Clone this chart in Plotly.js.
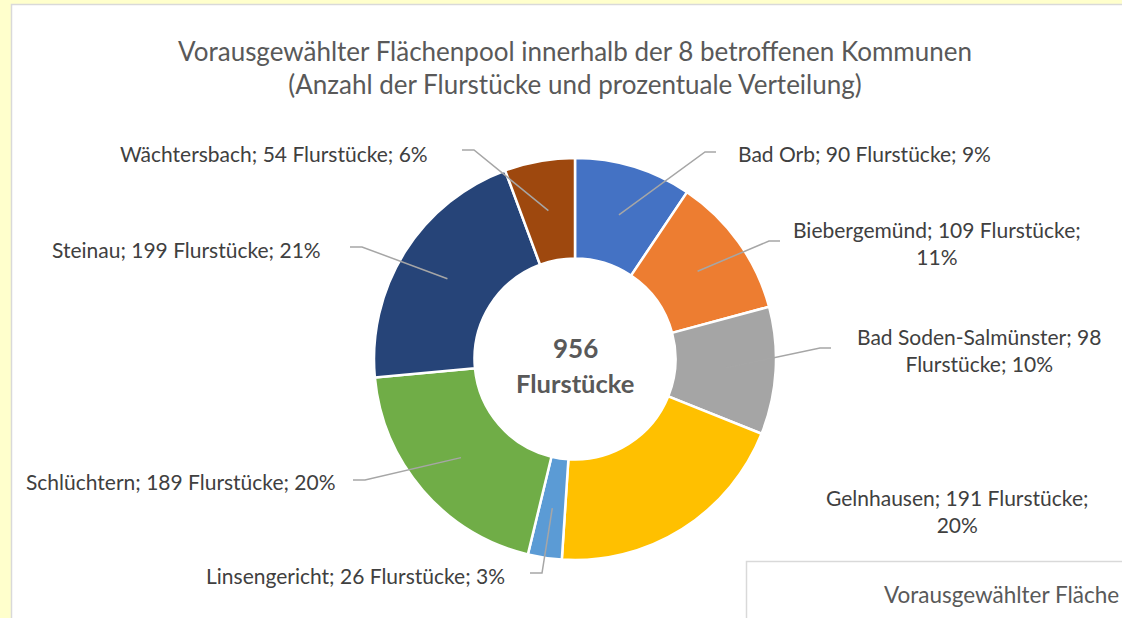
<!DOCTYPE html>
<html>
<head>
<meta charset="utf-8">
<script src="https://cdn.plot.ly/plotly-3.0.1.min.js"></script>
<style>
  html, body { margin: 0; padding: 0; background: #FFFFCC; }
  #chart { width: 1122px; height: 618px; }
</style>
</head>
<body>
<div id="chart"></div>
<script>
// Flurstücke je Kommune (im Uhrzeigersinn ab 12 Uhr)
var kommunen = ["Bad Orb", "Biebergemünd", "Bad Soden-Salmünster", "Gelnhausen",
                "Linsengericht", "Schlüchtern", "Steinau", "Wächtersbach"];
var flurstuecke = [90, 109, 98, 191, 26, 189, 199, 54];
var farben = ["#4472C4", "#ED7D31", "#A5A5A5", "#FFC000",
              "#5B9BD5", "#70AD47", "#264478", "#9E480E"];

// label layout (pixels): centre of text, where the leader line starts, how the text wraps
var labelX = [864, 937, 979, 957, 355, 181, 186, 274];
var labelY = [153, 243, 350, 511, 575, 482, 250, 153];
var leadX  = [716, 780, 831, null, 530, 353, 350, 462];
var leadY  = [152, 241, 348, null, 573, 480, 247, 150];
var wrap   = ["none", "pct", "mid", "pct", "none", "none", "none", "none"];

var W = 1122, H = 618;
var cx = 575, cy = 359, R = 201;
function px(x) { return x / W; }
function py(y) { return 1 - y / H; }

var total = flurstuecke.reduce(function(a, b) { return a + b; }, 0);

var trace = {
    type: "pie",
    labels: kommunen,
    values: flurstuecke,
    sort: false,
    direction: "clockwise",
    rotation: 0,
    hole: 0.5,
    textinfo: "none",
    hoverinfo: "skip",
    showlegend: false,
    marker: {colors: farben, line: {color: "#FFFFFF", width: 2.5}},
    domain: {x: [px(cx - R), px(cx + R)], y: [py(cy + R), py(cy - R)]}
};

var labelFont = {family: "Lato, 'Open Sans', sans-serif", size: 21, color: "#404040"};
var annotations = [];
var shapes = [
    // white chart area on the yellow sheet
    {type: "rect", xref: "paper", yref: "paper", layer: "below",
     x0: px(11.5), x1: px(1140), y0: py(4.5), y1: py(660),
     fillcolor: "#FFFFFF", line: {color: "#D9D9D9", width: 1.5}},
    // the next chart peeking in at the bottom right
    {type: "rect", xref: "paper", yref: "paper", layer: "above",
     x0: px(746.5), x1: px(1140), y0: py(561.5), y1: py(660),
     fillcolor: "#FFFFFF", line: {color: "#D9D9D9", width: 1.5}}
];

var cum = 0;
kommunen.forEach(function(name, i) {
    var v = flurstuecke[i];
    var pct = Math.round(v / total * 100) + "%";
    var txt;
    if (wrap[i] === "pct") txt = name + "; " + v + " Flurstücke;<br>" + pct;
    else if (wrap[i] === "mid") txt = name + "; " + v + "<br>Flurstücke; " + pct;
    else txt = name + "; " + v + " Flurstücke; " + pct;

    annotations.push({
        xref: "paper", yref: "paper", x: px(labelX[i]), y: py(labelY[i]),
        xanchor: "center", yanchor: "middle", align: "center",
        text: txt, showarrow: false, font: labelFont
    });

    var mid = (cum + v / 2) / total * 2 * Math.PI;
    cum += v;
    if (leadX[i] === null) return;
    var tx = cx + 0.75 * R * Math.sin(mid);
    var ty = cy - 0.75 * R * Math.cos(mid);
    var ex = leadX[i] + (tx > leadX[i] ? 12 : -11);
    shapes.push({
        type: "path", xref: "paper", yref: "paper", layer: "above",
        path: "M" + px(leadX[i]) + "," + py(leadY[i]) +
              " L" + px(ex) + "," + py(leadY[i]) +
              " L" + px(tx) + "," + py(ty),
        line: {color: "#A6A6A6", width: 1.5}
    });
});

// total in the hole
annotations.push({xref: "paper", yref: "paper", x: px(cx), y: py(348),
    xanchor: "center", yanchor: "middle", showarrow: false, text: "<b>" + total + "</b>",
    font: {family: "Lato, sans-serif", size: 26, color: "#595959"}});
annotations.push({xref: "paper", yref: "paper", x: px(cx), y: py(383),
    xanchor: "center", yanchor: "middle", showarrow: false, text: "<b>Flurstücke</b>",
    font: {family: "Lato, sans-serif", size: 25.5, color: "#595959"}});

var titleText = "Vorausgewählter Flächenpool innerhalb der 8 betroffenen Kommunen<br>(Anzahl der Flurstücke und prozentuale Verteilung)";

// title of the neighbouring chart, only its visible start
annotations.push({xref: "paper", yref: "paper", x: px(882), y: py(594),
    xanchor: "left", yanchor: "middle", showarrow: false, text: "Vorausgewählter Fläche",
    font: {family: "Lato, sans-serif", size: 22.5, color: "#595959"}});

var layout = {
    width: W, height: H,
    margin: {l: 0, r: 0, t: 0, b: 0},
    paper_bgcolor: "#FFFFCC",
    title: {text: titleText, x: px(cx), xanchor: "center",
            xref: "paper", yref: "paper", y: py(60.5), yanchor: "middle",
            font: {family: "Lato, sans-serif", size: 26, color: "#595959"}},
    shapes: shapes,
    annotations: annotations
};

Plotly.newPlot("chart", [trace], layout, {displayModeBar: false, staticPlot: true});
</script>
</body>
</html>
